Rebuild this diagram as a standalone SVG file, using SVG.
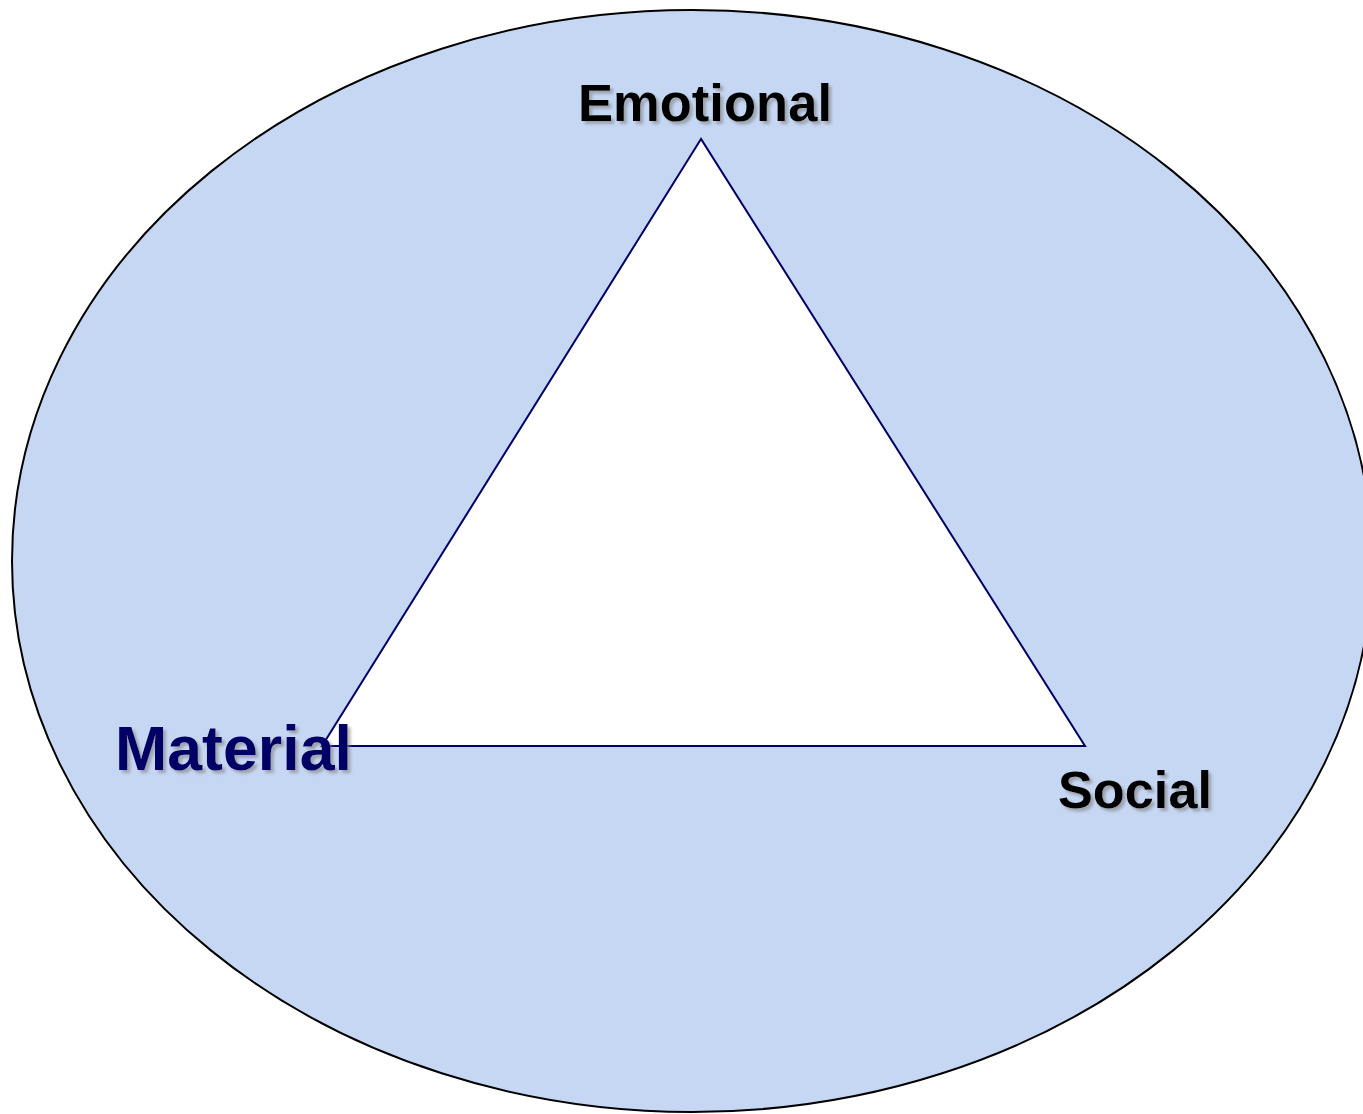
<svg xmlns="http://www.w3.org/2000/svg" width="1363" height="1114" viewBox="0 0 1363 1114">
<defs>
<filter id="sh" x="-10%" y="-20%" width="120%" height="150%">
<feGaussianBlur in="SourceAlpha" stdDeviation="1.5"/>
<feOffset dx="3" dy="3" result="b"/>
<feFlood flood-color="#808080" flood-opacity="0.6"/>
<feComposite in2="b" operator="in" result="s"/>
<feMerge><feMergeNode in="s"/><feMergeNode in="SourceGraphic"/></feMerge>
</filter>
</defs>
<style>
.lbl{font-family:"Liberation Sans",Arial,sans-serif;font-weight:bold;filter:url(#sh)}
</style>
<rect width="1363" height="1114" fill="#ffffff"/>
<g id="ellipse">
<ellipse cx="692" cy="561" rx="680" ry="551" fill="#c6d7f4" stroke="#000000" stroke-width="2"/>
</g>
<g id="connectors">
<polygon points="701,139 322,746 1085,746" fill="#ffffff" stroke="#000066" stroke-width="2"/>
</g>
<g id="emotional">
<text class="lbl" x="578" y="121" font-size="51" fill="#000000" textLength="254" lengthAdjust="spacingAndGlyphs">Emotional</text>
</g>
<g id="material">
<text class="lbl" x="115" y="770" font-size="63" fill="#000066" textLength="237" lengthAdjust="spacingAndGlyphs">Material</text>
</g>
<g id="social">
<text class="lbl" x="1058" y="808" font-size="52" fill="#000000" textLength="154" lengthAdjust="spacingAndGlyphs">Social</text>
</g>
</svg>
